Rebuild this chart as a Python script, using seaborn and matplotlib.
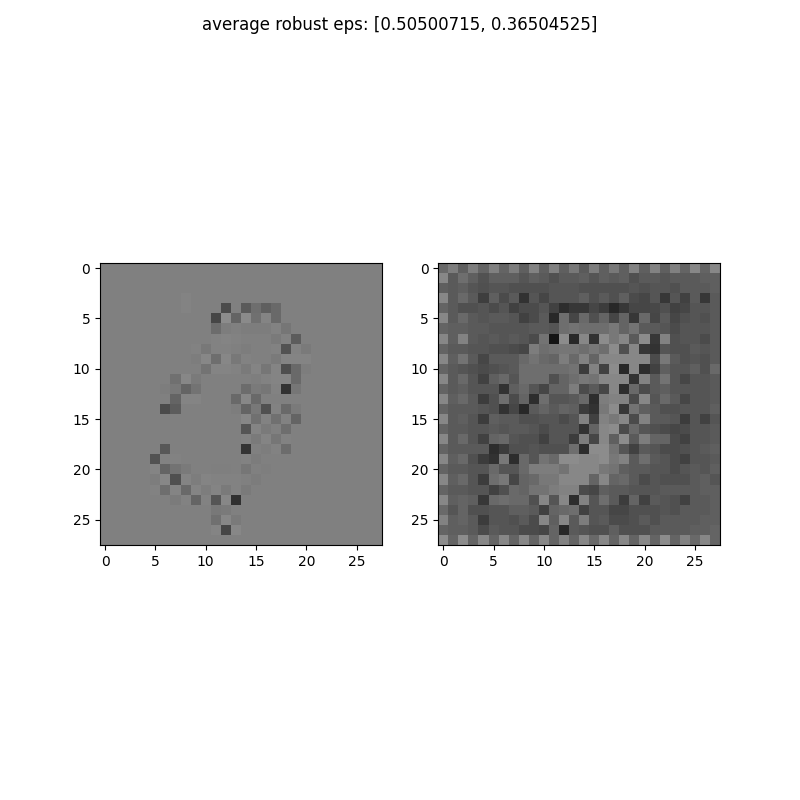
import matplotlib
matplotlib.use('Agg')
import matplotlib.pyplot as plt
import numpy as np
import seaborn as sns

title = 'average robust eps: [0.50500715, 0.36504525]'
tick_labels = [0, 5, 10, 15, 20, 25]

# gray levels, 128 is the flat background
left_img = [
[128,128,128,128,128,128,128,128,128,128,128,128,128,128,128,128,128,128,128,128,128,128,128,128,128,128,128,128],
[128,128,128,128,128,128,128,128,128,128,128,128,128,128,128,128,128,128,128,128,128,128,128,128,128,128,128,128],
[128,128,128,128,128,128,128,128,128,128,128,128,128,128,128,128,128,128,128,128,128,128,128,128,128,128,128,128],
[128,128,128,128,128,128,128,128,131,128,128,128,128,128,128,128,128,128,128,128,128,128,128,128,128,128,128,128],
[128,128,128,128,128,128,128,128,131,128,128,128,75,128,90,110,95,105,128,128,128,128,128,128,128,128,128,128],
[128,128,128,128,128,128,128,128,128,128,128,70,140,100,138,112,132,105,128,128,128,128,128,128,128,128,128,128],
[128,128,128,128,128,128,128,128,128,128,128,108,125,128,125,125,125,130,118,128,128,128,128,128,128,128,128,128],
[128,128,128,128,128,128,128,128,128,128,128,130,132,130,128,128,128,122,130,92,128,128,128,128,128,128,128,128],
[128,128,128,128,128,128,128,128,128,130,120,130,130,128,125,128,128,130,82,130,122,128,128,128,128,128,128,128],
[128,128,128,128,128,128,128,128,128,125,135,110,135,120,130,128,128,122,132,132,132,128,128,128,128,128,128,128],
[128,128,128,128,128,128,128,128,128,128,115,132,132,130,122,132,118,132,78,105,125,128,128,128,128,128,128,128],
[128,128,128,128,128,128,128,112,135,122,128,128,128,128,128,126,130,132,132,105,128,128,128,128,128,128,128,128],
[128,128,128,128,128,128,125,120,100,115,128,128,128,128,108,122,118,130,50,118,128,128,128,128,128,128,128,128],
[128,128,128,128,128,128,128,100,132,132,128,128,128,105,135,105,128,128,128,128,128,128,128,128,128,128,128,128],
[128,128,128,128,128,128,75,92,128,128,128,128,128,125,100,120,80,130,105,122,128,128,128,128,128,128,128,128],
[128,128,128,128,128,128,128,128,128,128,128,128,128,128,135,112,130,112,130,100,128,128,128,128,128,128,128,128],
[128,128,128,128,128,128,128,128,128,128,128,128,128,128,85,132,122,128,110,128,128,128,128,128,128,128,128,128],
[128,128,128,128,128,128,128,128,128,128,128,128,128,128,130,122,132,118,130,128,128,128,128,128,128,128,128,128],
[128,128,128,128,128,128,88,128,128,128,128,128,128,128,52,128,125,130,108,128,128,128,128,128,128,128,128,128],
[128,128,128,128,128,82,130,130,128,128,128,128,128,128,130,124,128,128,128,128,128,128,128,128,128,128,128,128],
[128,128,128,128,128,132,100,115,122,128,128,127,127,128,118,128,126,128,128,128,128,128,128,128,128,128,128,128],
[128,128,128,128,128,125,135,80,132,125,132,130,130,130,128,124,128,128,128,128,128,128,128,128,128,128,128,128],
[128,128,128,128,128,130,110,132,105,132,125,132,122,130,122,128,128,128,128,128,128,128,128,128,128,128,128,128],
[128,128,128,128,128,128,128,123,130,100,130,85,135,48,128,128,128,128,128,128,128,128,128,128,128,128,128,128],
[128,128,128,128,128,128,128,128,128,128,128,120,122,128,128,128,128,128,128,128,128,128,128,128,128,128,128,128],
[128,128,128,128,128,128,128,128,128,128,128,112,135,122,128,128,128,128,128,128,128,128,128,128,128,128,128,128],
[128,128,128,128,128,128,128,128,128,128,128,132,70,135,128,128,128,128,128,128,128,128,128,128,128,128,128,128],
[128,128,128,128,128,128,128,128,128,128,128,128,128,128,128,128,128,128,128,128,128,128,128,128,128,128,128,128],
]

right_img = [
[105,125,95,125,100,128,100,125,95,130,95,128,95,120,90,125,95,120,95,130,95,130,95,128,100,135,100,135],
[135,90,110,95,82,95,95,95,85,95,90,80,90,90,95,85,95,90,95,80,90,90,85,90,90,90,95,95],
[95,90,95,85,80,85,85,80,80,80,80,85,85,85,80,80,80,80,80,85,80,85,85,80,90,90,90,95],
[135,90,105,90,62,95,75,90,50,85,70,85,85,85,95,80,90,80,95,75,70,85,55,85,65,90,55,90],
[100,90,80,80,85,75,85,65,75,75,85,65,45,55,55,70,60,40,55,70,70,72,80,65,70,85,85,90],
[135,90,105,90,85,90,90,85,65,75,90,40,110,70,105,80,100,70,100,55,105,70,90,70,80,85,80,90],
[100,95,95,90,90,85,85,85,85,90,90,85,110,115,110,110,110,120,100,115,90,90,85,75,85,85,85,90],
[135,95,130,90,85,90,85,90,85,75,115,20,140,40,135,50,140,120,135,90,140,55,130,80,85,85,75,90],
[100,90,90,85,85,80,80,75,70,125,110,115,118,118,110,120,110,140,80,135,55,50,85,80,80,90,85,90],
[135,95,115,90,70,90,90,90,105,115,105,100,125,105,130,100,135,135,135,135,135,75,120,90,80,85,80,90],
[100,90,85,80,75,80,85,90,110,110,110,110,110,115,60,130,65,140,40,135,45,65,95,85,85,95,80,105],
[135,90,105,85,65,95,105,85,110,110,110,80,100,110,120,115,135,135,135,50,130,90,115,85,70,85,85,90],
[100,90,95,85,85,85,50,95,105,85,70,100,100,125,75,90,70,135,45,105,75,90,95,85,85,85,85,90],
[135,95,105,90,60,80,110,75,100,45,110,85,85,90,105,45,125,130,130,75,135,85,105,90,70,85,85,90],
[100,90,90,90,85,80,50,70,40,90,100,90,100,95,60,50,120,140,55,115,95,90,80,80,85,85,85,95],
[135,90,95,85,60,95,90,90,80,80,85,85,75,85,130,65,130,120,135,75,130,90,90,85,60,85,65,85],
[100,90,90,85,85,90,85,90,90,85,75,85,85,85,50,100,135,140,75,105,85,80,75,70,75,85,85,90],
[135,90,105,85,65,100,105,85,80,80,65,85,85,60,125,70,135,95,140,90,125,100,100,75,65,85,85,90],
[100,90,90,90,90,45,60,80,80,85,80,80,80,110,45,140,140,115,85,65,90,85,75,75,80,85,90,95],
[135,95,105,80,60,50,120,45,105,85,115,105,140,140,135,135,140,120,130,90,110,90,85,75,65,85,85,90],
[100,90,90,85,85,105,85,85,105,125,125,125,115,135,135,135,120,115,95,90,90,85,85,75,85,90,85,95],
[135,95,105,85,60,110,120,70,100,105,120,120,135,135,135,100,135,100,105,90,75,85,80,80,80,90,95,85],
[100,90,90,85,85,65,80,105,100,115,115,125,130,130,75,70,95,90,90,85,85,85,90,90,90,90,95,95],
[135,95,100,95,55,105,110,105,105,80,135,85,135,45,130,85,110,90,60,100,65,90,85,80,65,90,90,95],
[105,85,100,80,80,85,85,95,95,90,65,100,105,110,65,85,85,70,70,80,80,80,85,80,90,90,90,95],
[130,95,100,90,60,85,85,80,90,75,135,95,135,90,125,85,90,75,75,80,90,80,90,90,90,90,95,95],
[100,95,95,90,75,90,85,85,75,75,70,100,40,90,85,80,80,95,80,80,80,90,90,90,90,95,95,100],
[140,100,140,100,135,100,135,100,135,100,135,100,130,100,135,105,135,100,135,100,135,100,140,100,130,105,135,100],
]

sns.set_style('ticks')
plt.rcParams['font.family'] = ['DejaVu Sans']
plt.rcParams['text.color'] = 'black'

fig, axes = plt.subplots(1, 2, figsize=(8, 8), dpi=100)
fig.suptitle(title, fontsize=12)

for ax, img in zip(axes, [left_img, right_img]):
    sns.heatmap(np.array(img), ax=ax, cmap='gray', vmin=0, vmax=255, cbar=False, square=True)
    # heatmap puts cells on 0..28, so the ticks go on the cell centres
    ax.set_xticks(np.array(tick_labels) + 0.5)
    ax.set_yticks(np.array(tick_labels) + 0.5)
    ax.set_xticklabels(tick_labels, rotation=0, fontsize=10)
    ax.set_yticklabels(tick_labels, rotation=0, fontsize=10, va='center_baseline')
    ax.tick_params(length=3.5, width=0.8, color='black', labelcolor='black')
    for s in ax.spines.values():
        s.set_visible(True)
        s.set_linewidth(0.8)
        s.set_color('black')

plt.savefig('out.png')
